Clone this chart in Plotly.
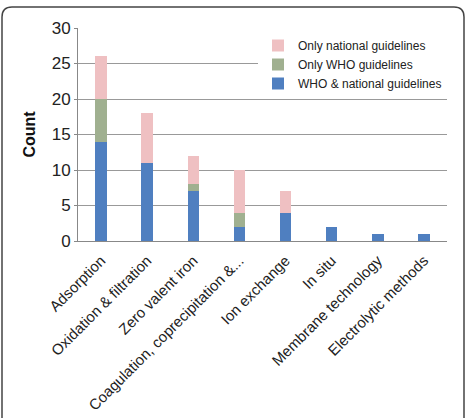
import plotly.graph_objects as go

categories = ["Adsorption", "Oxidation & filtration", "Zero valent iron",
              "Coagulation, coprecipitation &...", "Ion exchange", "In situ",
              "Membrane technology", "Electrolytic methods"]
who_and_national = [14, 11, 7, 2, 4, 2, 1, 1]
only_who = [6, 0, 1, 2, 0, 0, 0, 0]
only_national = [6, 7, 4, 6, 3, 0, 0, 0]
y_ticks = [0, 5, 10, 15, 20, 25, 30]

W, H = 467, 418
L, R, T, B = 78, 20, 28, 177

fig = go.Figure()
fig.add_trace(go.Bar(x=categories, y=who_and_national, name="WHO & national guidelines",
                     marker=dict(color="#4f7fc0", line=dict(width=0))))
fig.add_trace(go.Bar(x=categories, y=only_who, name="Only WHO guidelines",
                     marker=dict(color="#a0b090", line=dict(width=0))))
fig.add_trace(go.Bar(x=categories, y=only_national, name="Only national guidelines",
                     marker=dict(color="#efc0c2", line=dict(width=0))))

pw = W - L - R
ph = H - T - B
def px(x):
    return (x - L) / pw
def py(y):
    return (H - B - y) / ph

# rounded frame around the figure
x0, x1, y0, y1, r = px(2), px(464), py(7), py(430), 10 / pw
ry = 10 / ph
path = (f"M {x0},{y1} L {x0},{y0 - ry} Q {x0},{y0} {x0 + r},{y0} "
        f"L {x1 - r},{y0} Q {x1},{y0} {x1},{y0 - ry} L {x1},{y1}")

fig.update_layout(
    width=W, height=H,
    margin=dict(l=L, r=R, t=T, b=B, autoexpand=False),
    barmode="stack",
    bargap=0.75,
    plot_bgcolor="white",
    paper_bgcolor="white",
    font=dict(family="Arial, Liberation Sans, sans-serif", color="#111"),
    showlegend=True,
    legend=dict(x=px(258), y=py(31), xanchor="left", yanchor="top",
                traceorder="reversed", bgcolor="white",
                font=dict(size=12, color="#222"), itemwidth=30,
                tracegroupgap=0, itemsizing="constant"),
    xaxis=dict(tickangle=-45, tickfont=dict(size=15, color="#222"),
               showline=True, linecolor="#888", linewidth=1, ticks="",
               ticklabelstandoff=4, automargin=False),
    yaxis=dict(range=[0, 30], tickvals=y_ticks, tickfont=dict(size=17, color="#222"),
               showgrid=True, gridcolor="#999", gridwidth=1,
               showline=True, linecolor="#888", linewidth=1,
               ticks="outside", ticklen=3, tickcolor="#888",
               title=dict(text="<b>Count</b>", font=dict(size=16, color="#111"), standoff=12),
               zeroline=False, automargin=False),
    shapes=[dict(type="path", path=path, xref="paper", yref="paper",
                 line=dict(color="#444", width=1.5), layer="above")],
)

fig.write_html("out.html")
